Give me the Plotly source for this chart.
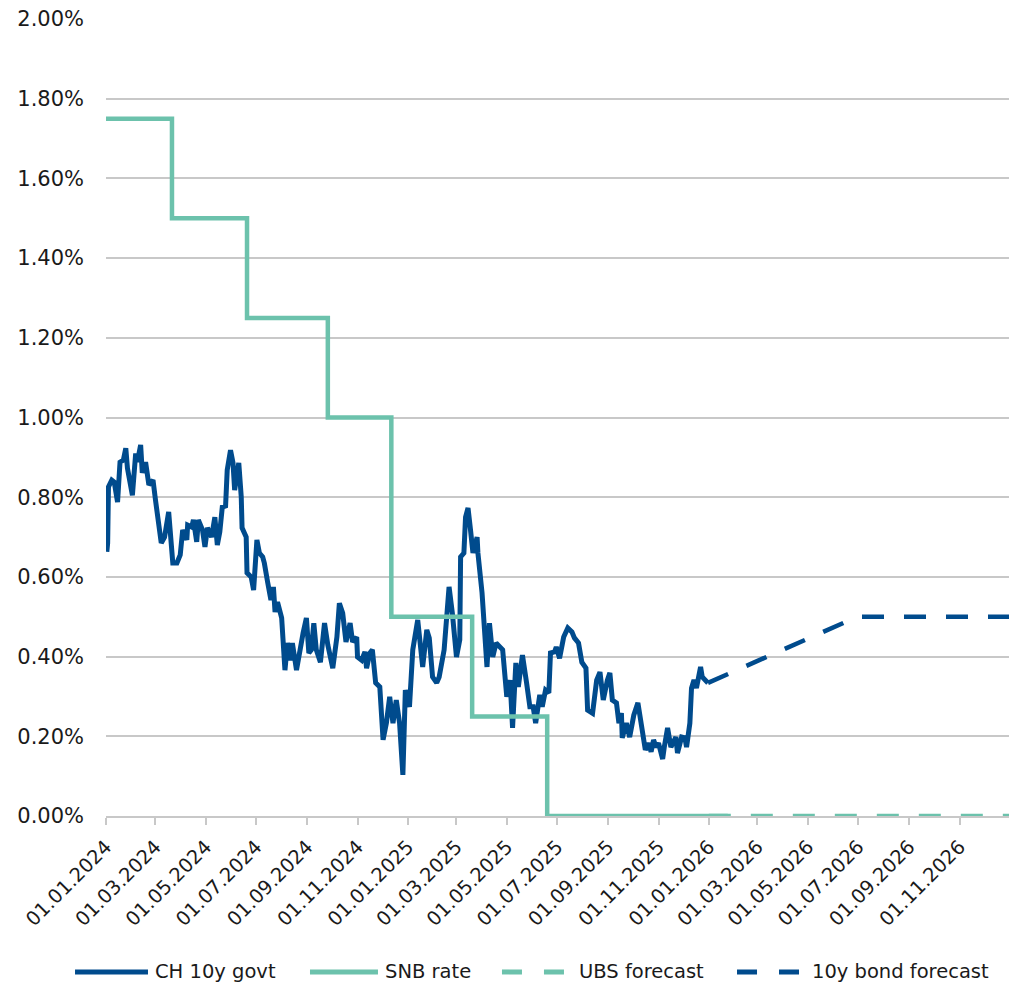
import plotly.graph_objects as go

# ---------------- data ----------------
ch10_dates = [
    "2024-01-02","2024-01-03","2024-01-04","2024-01-08","2024-01-11","2024-01-15","2024-01-18","2024-01-22",
    "2024-01-25","2024-01-27","2024-02-02","2024-02-06","2024-02-08","2024-02-12","2024-02-14","2024-02-18",
    "2024-02-22","2024-02-27","2024-03-01","2024-03-05","2024-03-08","2024-03-12","2024-03-17","2024-03-22",
    "2024-03-27","2024-03-31","2024-04-03","2024-04-08","2024-04-09","2024-04-14","2024-04-16","2024-04-20",
    "2024-04-22","2024-04-27","2024-04-30","2024-05-03","2024-05-08","2024-05-12","2024-05-15","2024-05-18",
    "2024-05-21","2024-05-25","2024-05-27","2024-05-31","2024-06-03","2024-06-05","2024-06-07","2024-06-10",
    "2024-06-13","2024-06-14","2024-06-19","2024-06-20","2024-06-25","2024-06-28","2024-07-02","2024-07-05",
    "2024-07-09","2024-07-11","2024-07-15","2024-07-19","2024-07-22","2024-07-24","2024-07-27","2024-08-01",
    "2024-08-05","2024-08-08","2024-08-12","2024-08-14","2024-08-19","2024-08-23","2024-08-27","2024-08-31",
    "2024-09-03","2024-09-06","2024-09-09","2024-09-12","2024-09-17","2024-09-22","2024-09-26","2024-10-02",
    "2024-10-07","2024-10-10","2024-10-14","2024-10-18","2024-10-23","2024-10-26","2024-10-31","2024-11-01",
    "2024-11-06","2024-11-10","2024-11-12","2024-11-16","2024-11-19","2024-11-23","2024-11-28","2024-12-02",
    "2024-12-06","2024-12-10","2024-12-14","2024-12-18","2024-12-22","2024-12-26","2024-12-29","2025-01-03",
    "2025-01-07","2025-01-13","2025-01-19","2025-01-24","2025-01-27","2025-01-31","2025-02-05","2025-02-08",
    "2025-02-14","2025-02-20","2025-02-24","2025-03-01","2025-03-05","2025-03-06","2025-03-10","2025-03-12",
    "2025-03-15","2025-03-18","2025-03-21","2025-03-26","2025-03-27","2025-04-01","2025-04-04","2025-04-07",
    "2025-04-10","2025-04-14","2025-04-18","2025-04-22","2025-04-26","2025-05-01","2025-05-05","2025-05-08",
    "2025-05-12","2025-05-15","2025-05-20","2025-05-25","2025-05-29","2025-06-02","2025-06-05","2025-06-10",
    "2025-06-13","2025-06-17","2025-06-21","2025-06-23","2025-06-28","2025-06-30","2025-07-04","2025-07-09",
    "2025-07-14","2025-07-19","2025-07-22","2025-07-27","2025-07-31","2025-08-05","2025-08-07","2025-08-13",
    "2025-08-16","2025-08-18","2025-08-22","2025-08-26","2025-08-31","2025-09-03","2025-09-06","2025-09-11",
    "2025-09-14","2025-09-17","2025-09-18","2025-09-23","2025-09-27","2025-10-02","2025-10-07","2025-10-12",
    "2025-10-16","2025-10-20","2025-10-23","2025-10-26","2025-10-29","2025-11-01","2025-11-06","2025-11-08",
    "2025-11-12","2025-11-16","2025-11-18","2025-11-22","2025-11-24","2025-11-29","2025-12-03","2025-12-05",
    "2025-12-09","2025-12-11","2025-12-14","2025-12-17","2025-12-22","2025-12-24","2025-12-31",
]
ch10_values = [
    0.663,0.685,0.826,0.843,0.838,0.788,0.888,0.893,
    0.923,0.873,0.805,0.910,0.888,0.931,0.861,0.888,
    0.831,0.843,0.793,0.735,0.685,0.700,0.763,0.635,
    0.635,0.655,0.718,0.693,0.730,0.725,0.743,0.688,
    0.743,0.718,0.675,0.723,0.700,0.750,0.680,0.713,
    0.775,0.778,0.868,0.918,0.886,0.818,0.851,0.886,
    0.801,0.723,0.700,0.610,0.600,0.567,0.693,0.660,
    0.650,0.635,0.587,0.542,0.575,0.512,0.537,0.497,
    0.366,0.434,0.391,0.434,0.366,0.417,0.459,0.497,
    0.409,0.417,0.484,0.417,0.386,0.484,0.429,0.371,
    0.449,0.534,0.509,0.437,0.484,0.437,0.449,0.399,
    0.391,0.412,0.371,0.409,0.417,0.334,0.324,0.191,
    0.233,0.299,0.233,0.291,0.233,0.103,0.316,0.274,
    0.417,0.492,0.374,0.467,0.447,0.349,0.334,0.349,
    0.417,0.575,0.509,0.399,0.442,0.650,0.660,0.750,
    0.773,0.718,0.660,0.700,0.660,0.560,0.467,0.374,
    0.484,0.399,0.434,0.424,0.417,0.299,0.341,0.221,
    0.384,0.324,0.404,0.334,0.274,0.274,0.233,0.304,
    0.274,0.316,0.309,0.409,0.412,0.424,0.396,0.449,
    0.472,0.462,0.447,0.434,0.386,0.371,0.266,0.258,
    0.309,0.341,0.361,0.291,0.341,0.359,0.291,0.284,
    0.233,0.258,0.196,0.233,0.198,0.253,0.284,0.216,
    0.166,0.183,0.161,0.191,0.173,0.183,0.143,0.173,
    0.221,0.173,0.183,0.198,0.158,0.198,0.196,0.173,
    0.233,0.321,0.341,0.321,0.374,0.349,0.334,
]

snb_dates = ["2024-01-01","2024-03-21","2024-06-20","2024-09-26","2024-12-12","2025-03-20","2025-06-19","2026-01-24"]
snb_values = [1.75, 1.50, 1.25, 1.00, 0.50, 0.25, 0.00, 0.00]

ubs_dates = ["2026-01-01", "2026-12-31"]
ubs_values = [0.0, 0.0]

bond_fc_dates = ["2025-12-31", "2026-06-30", "2026-12-31"]
bond_fc_values = [0.334, 0.50, 0.50]

series_names = ["CH 10y govt", "SNB rate", "UBS forecast", "10y bond forecast"]

# ---------------- styling ----------------
BLUE = "#004B8D"
TEAL = "#6CC2AC"
GRID = "#C8C8C8"
FONT = "'DejaVu Sans', Verdana, sans-serif"
TXT = "#1A1A1A"

fig = go.Figure()
fig.add_trace(go.Scatter(x=ch10_dates, y=ch10_values, mode="lines", name=series_names[0],
                         line=dict(color=BLUE, width=5)))
fig.add_trace(go.Scatter(x=snb_dates, y=snb_values, mode="lines", name=series_names[1],
                         line=dict(color=TEAL, width=4.5, shape="hv")))
fig.add_trace(go.Scatter(x=ubs_dates, y=ubs_values, mode="lines", name=series_names[2],
                         line=dict(color=TEAL, width=4.5, dash="22px,20px")))
fig.add_trace(go.Scatter(x=bond_fc_dates, y=bond_fc_values, mode="lines", name=series_names[3],
                         line=dict(color=BLUE, width=4.5, dash="22px,20px")))

# custom legend (paper coordinates)
legend_items = [
    (series_names[0], BLUE, "solid", -0.0343, 0.0465, 0.0520),
    (series_names[1], TEAL, "solid", 0.2259, 0.3012, 0.3068),
    (series_names[2], TEAL, "20px,22px", 0.4385, 0.5083, 0.5216),
    (series_names[3], BLUE, "20px,22px", 0.6988, 0.7685, 0.7796),
]
ly = -0.1957
for name, col, dash, x0, x1, xt in legend_items:
    fig.add_shape(type="line", xref="paper", yref="paper", x0=x0, x1=x1, y0=ly, y1=ly,
                  line=dict(color=col, width=5, dash=dash))
    fig.add_annotation(xref="paper", yref="paper", x=xt, y=ly, text=name, showarrow=False,
                       xanchor="left", yanchor="middle", font=dict(family=FONT, size=19.5, color=TXT))

fig.update_layout(
    width=1010, height=988,
    margin=dict(l=106, r=1, t=19, b=172),
    paper_bgcolor="white", plot_bgcolor="white",
    showlegend=False,
    font=dict(family=FONT, size=20, color=TXT),
)
fig.update_xaxes(
    type="date", range=["2024-01-01", "2026-12-31"],
    tick0="2024-01-01", dtick="M2", tickformat="%d.%m.%Y", tickangle=-45,
    ticks="outside", ticklen=7, tickcolor=GRID, tickwidth=1.5,
    showline=True, linecolor=GRID, linewidth=1.5,
    showgrid=False, zeroline=False,
    ticklabelstandoff=3,
    tickfont=dict(family=FONT, size=19.5, color=TXT),
)
fig.update_yaxes(
    range=[0, 2.0], dtick=0.2, tick0=0, tickformat=".2f", ticksuffix="%",
    showgrid=True, gridcolor=GRID, gridwidth=1.5,
    zeroline=False, showline=False, ticks="",
    ticklabelstandoff=21,
    tickfont=dict(family=FONT, size=21, color=TXT),
)

fig.write_html("out.html")
